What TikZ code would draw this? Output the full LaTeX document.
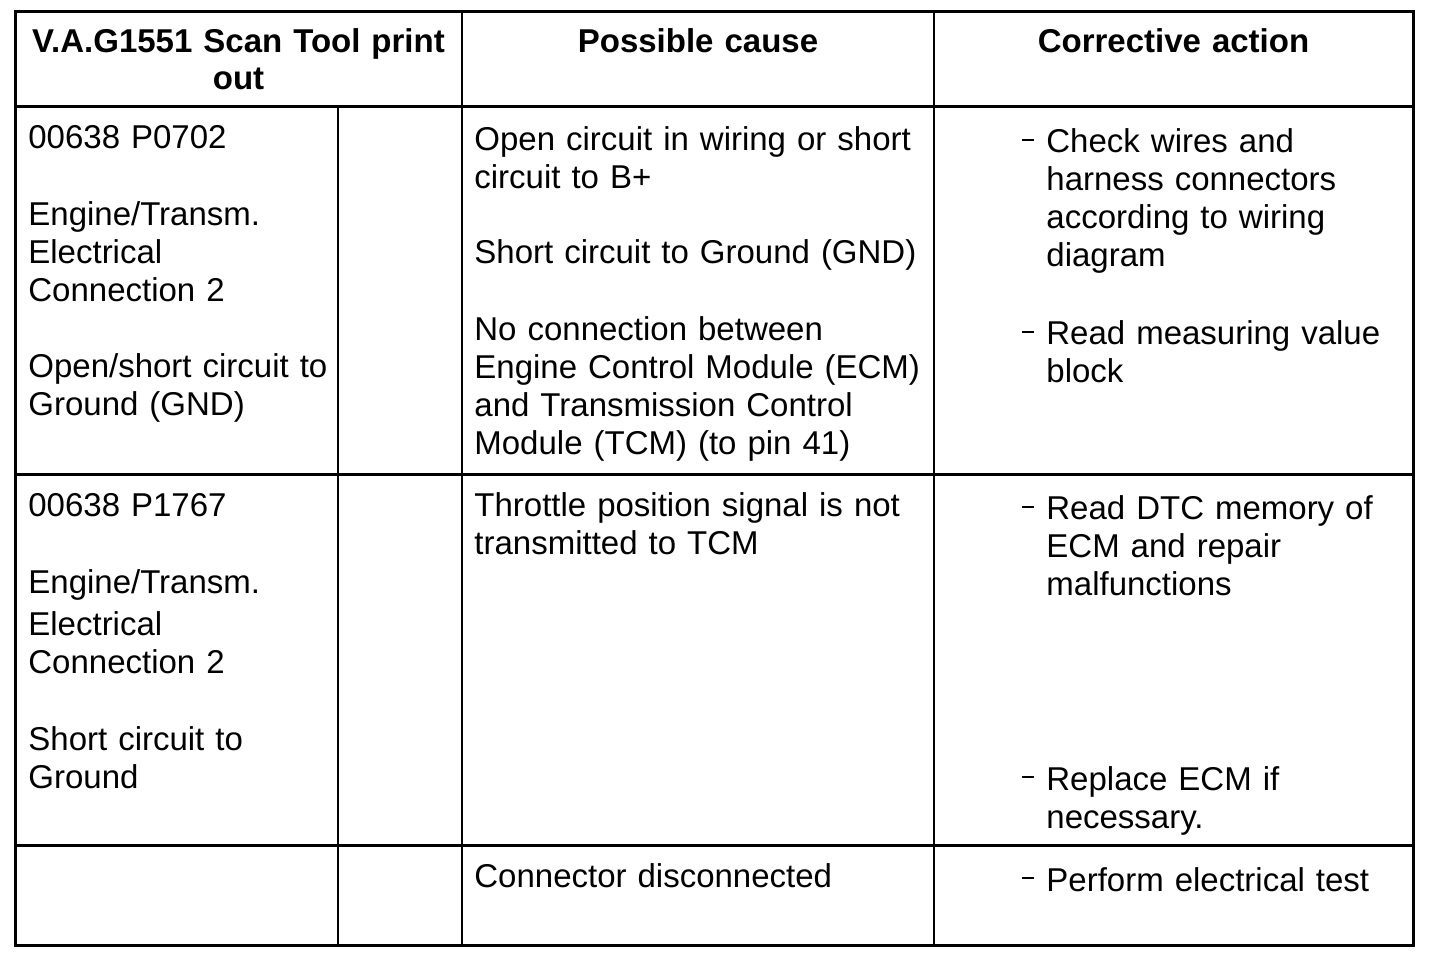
\documentclass[tikz,border=0pt]{standalone}
\usepackage{fontspec}
\setmainfont{Liberation Sans}
\usetikzlibrary{positioning}
\newcommand{\actdash}{\llap{\raisebox{6pt}{\rule{6pt}{1.2pt}}\hspace{6pt}}}
\tikzset{
    head/.style={
    anchor=base,inner sep=0pt,align=center,text width=230pt,font=\fontsize{16.5}{18.5}\selectfont\bfseries
    },
    cell/.style={
    anchor=base west,inner sep=0pt,align=left,text width=240pt,font=\fontsize{16.5}{19}\selectfont
    },
    gridline/.style={
    line width=1.5pt
    },
    thingrid/.style={
    line width=1.1pt
    },
}
\begin{document}
\begin{tikzpicture}[x=0.5pt,y=-0.5pt]
   \useasboundingbox (0,0) rectangle (1440,956);

   % header
   \node[head] (hprint) at (238.5,53) {V.A.G1551 Scan Tool print\\out};
   \node[head] (hcause) at (698,53) {Possible cause};
   \node[head] (haction) at (1173.5,53) {Corrective action};

   % first fault
   \node[cell] (code1) at (28,149) {00638 P0702};
   \node[cell] (name1) at (28,226) {Engine/Transm.\\Electrical\\Connection 2};
   \node[cell] (txt1) at (28,378) {Open/short circuit to\\Ground (GND)};
   \node[cell] (cause1a) at (474,151) {Open circuit in wiring or short\\circuit to B+};
   \node[cell] (cause1b) at (474,264) {Short circuit to Ground (GND)};
   \node[cell] (cause1c) at (474,341) {No connection between\\Engine Control Module (ECM)\\and Transmission Control\\Module (TCM) (to pin 41)};
   \node[cell] (act1a) at (1046,153) {\actdash Check wires and\\harness connectors\\according to wiring\\diagram};
   \node[cell] (act1b) at (1046,345) {\actdash Read measuring value\\block};

   % second fault
   \node[cell] (code2) at (28,517) {00638 P1767};
   \node[cell] (name2) at (28,594) {Engine/Transm.};
   \node[cell] (elec2) at (28,635) {Electrical\\Connection 2};
   \node[cell] (txt2) at (28,750) {Short circuit to\\Ground};
   \node[cell] (cause2) at (474,517) {Throttle position signal is not\\transmitted to TCM};
   \node[cell] (act2a) at (1046,520) {\actdash Read DTC memory of\\ECM and repair\\malfunctions};
   \node[cell] (act2b) at (1046,790) {\actdash Replace ECM if\\necessary.};

   % third row
   \node[cell] (cause3) at (474,887) {Connector disconnected};
   \node[cell] (act3) at (1046,891) {\actdash Perform electrical test};

   % table rules
   \draw[gridline] (15,12) rectangle (1413,945);
   \draw[gridline] (15,107) -- (1413,107);
   \draw[gridline] (15,475) -- (1413,475);
   \draw[gridline] (15,845) -- (1413,845);
   \draw[thingrid] (338,107) -- (338,945);
   \draw[thingrid] (462,12) -- (462,945);
   \draw[thingrid] (934,12) -- (934,945);
\end{tikzpicture}
\end{document}
